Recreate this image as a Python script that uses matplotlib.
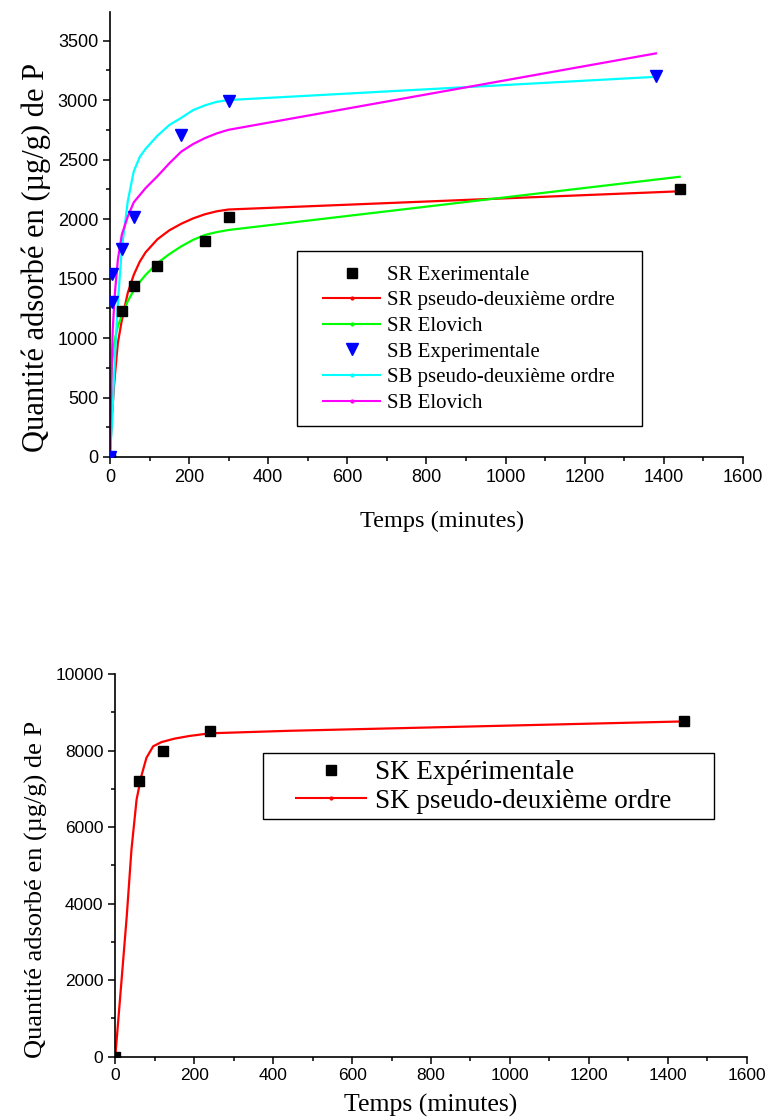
import numpy as np
import matplotlib
matplotlib.use("Agg")
import matplotlib.pyplot as plt
from matplotlib.lines import Line2D
from matplotlib.patches import Rectangle
from matplotlib.ticker import MultipleLocator

# --- top panel : SR and SB ---
sr_t = [0, 30, 60, 120, 240, 300, 1440]
sr_q = [0, 1225, 1435, 1608, 1815, 2015, 2255]

sb_t = [0, 4, 6, 30, 60, 180, 300, 1380]
sb_q = [0, 1300, 1540, 1745, 2020, 2710, 2990, 3200]

sr_pso_t = [0, 2, 5, 10, 15, 20, 30, 45, 60, 75, 90, 120, 150, 180, 210, 240, 270, 300, 1440]
sr_pso_q = [0, 150, 340, 590, 780, 960, 1150, 1380, 1530, 1640, 1720, 1830, 1905, 1960, 2005,
            2040, 2065, 2080, 2233]

sr_elo_t = [0, 1, 2, 5, 10, 15, 20, 30, 45, 60, 75, 90, 120, 150, 180, 210, 240, 270, 300, 1440]
sr_elo_q = [0, 350, 550, 780, 940, 1030, 1100, 1190, 1310, 1400, 1470, 1530, 1630, 1705, 1770,
            1825, 1866, 1890, 1908, 2355]

sb_pso_t = [0, 2, 5, 10, 15, 20, 30, 45, 60, 75, 90, 120, 150, 180, 210, 240, 270, 300, 1380]
sb_pso_q = [0, 120, 280, 650, 1000, 1300, 1750, 2150, 2400, 2520, 2590, 2700, 2790, 2850, 2915,
            2955, 2985, 3000, 3195]

sb_elo_t = [0, 1, 2.5, 5, 7, 10, 13, 20, 30, 45, 60, 90, 120, 150, 180, 210, 240, 270, 300, 1380]
sb_elo_q = [0, 250, 500, 850, 1070, 1250, 1400, 1660, 1870, 2020, 2140, 2260, 2360, 2468, 2566,
            2630, 2680, 2720, 2750, 3392]

# --- bottom panel : SK ---
sk_t = [0, 60, 120, 240, 1440]
sk_q = [0, 7200, 8000, 8500, 8760]

sk_pso_t = [0, 16, 29, 41, 54, 66, 79, 96, 117, 150, 188, 240, 440, 1440]
sk_pso_q = [0, 2010, 3660, 5410, 6720, 7330, 7810, 8110, 8220, 8310, 8380, 8450, 8515, 8760]

labels_top = ["SR Exerimentale", "SR pseudo-deuxième ordre", "SR Elovich",
              "SB Experimentale", "SB pseudo-deuxième ordre", "SB Elovich"]
labels_bot = ["SK Expérimentale", "SK pseudo-deuxième ordre"]

SERIF = "Liberation Serif"
SANS = "Liberation Sans"

RED, GREEN, CYAN, MAGENTA, BLUE = "#ff0000", "#00ff00", "#00ffff", "#ff00ff", "#0000ff"


def style_axes(ax, tick_size):
    for side in ("top", "right"):
        ax.spines[side].set_visible(False)
    for side in ("left", "bottom"):
        ax.spines[side].set_linewidth(1.2)
    ax.tick_params(which="major", direction="out", length=5, width=1.1,
                   labelsize=tick_size)
    ax.tick_params(which="minor", direction="out", length=3, width=1.1)
    for lab in ax.get_xticklabels() + ax.get_yticklabels():
        lab.set_fontfamily(SANS)


def line_handle(color):
    return Line2D([], [], color=color, lw=1.5, marker=".", ms=4)


def legend_box(ax, x0, y0, x1, y1):
    ax.add_patch(Rectangle((x0, y0), x1 - x0, y1 - y0, transform=ax.transAxes,
                           facecolor="white", edgecolor="black", lw=1.0,
                           zorder=4, clip_on=False))


fig = plt.figure(figsize=(7.68, 11.19), dpi=100)

# top chart
ax1 = fig.add_axes([0.1432, 0.5916, 0.8242, 0.3977])
ax1.plot(sr_pso_t, sr_pso_q, color=RED, lw=1.6, zorder=2)
ax1.plot(sr_elo_t, sr_elo_q, color=GREEN, lw=1.6, zorder=2)
ax1.plot(sb_pso_t, sb_pso_q, color=CYAN, lw=1.6, zorder=2)
ax1.plot(sb_elo_t, sb_elo_q, color=MAGENTA, lw=1.6, zorder=2)
ax1.plot(sr_t, sr_q, ls="none", marker="s", ms=6.5, color="black", zorder=3)
ax1.plot(sb_t, sb_q, ls="none", marker="v", ms=8.5, color=BLUE, zorder=3)

ax1.set_xlim(0, 1600)
ax1.set_ylim(0, 3740)
ax1.xaxis.set_major_locator(MultipleLocator(200))
ax1.xaxis.set_minor_locator(MultipleLocator(100))
ax1.yaxis.set_major_locator(MultipleLocator(500))
ax1.yaxis.set_minor_locator(MultipleLocator(250))
style_axes(ax1, 13)
ax1.set_xlabel("Temps (minutes)", fontfamily=SERIF, fontsize=17.5)
ax1.xaxis.set_label_coords(0.524, -0.122)
ax1.set_ylabel("Quantité adsorbé en (µg/g) de P", fontfamily=SERIF, fontsize=22)
ax1.yaxis.set_label_coords(-0.093, 0.449)

handles_top = [
    Line2D([], [], ls="none", marker="s", ms=6.5, color="black"),
    line_handle(RED), line_handle(GREEN),
    Line2D([], [], ls="none", marker="v", ms=8.5, color=BLUE),
    line_handle(CYAN), line_handle(MAGENTA),
]
legend_box(ax1, 0.2954, 0.0697, 0.8404, 0.4629)
leg1 = ax1.legend(handles_top, labels_top, loc="center left",
                  bbox_to_anchor=(0.3365, 0.265), prop={"family": SERIF, "size": 15},
                  frameon=False, handlelength=2.74, handletextpad=0.34,
                  labelspacing=0.29, borderpad=0, borderaxespad=0, numpoints=1)
leg1.set_zorder(5)

# bottom chart
ax2 = fig.add_axes([0.1501, 0.0557, 0.8222, 0.3420])
ax2.plot(sk_pso_t, sk_pso_q, color=RED, lw=1.6, zorder=2)
ax2.plot(sk_t, sk_q, ls="none", marker="s", ms=6.5, color="black", zorder=3)

ax2.set_xlim(0, 1600)
ax2.set_ylim(0, 10000)
ax2.xaxis.set_major_locator(MultipleLocator(200))
ax2.xaxis.set_minor_locator(MultipleLocator(100))
ax2.yaxis.set_major_locator(MultipleLocator(2000))
ax2.yaxis.set_minor_locator(MultipleLocator(1000))
style_axes(ax2, 12.5)
ax2.set_xlabel("Temps (minutes)", fontfamily=SERIF, fontsize=18.5)
ax2.xaxis.set_label_coords(0.5, -0.097)
ax2.set_ylabel("Quantité adsorbé en (µg/g) de P", fontfamily=SERIF, fontsize=19)
ax2.yaxis.set_label_coords(-0.107, 0.438)

handles_bot = [
    Line2D([], [], ls="none", marker="s", ms=6.5, color="black"),
    line_handle(RED),
]
legend_box(ax2, 0.2339, 0.6211, 0.9482, 0.7936)
leg2 = ax2.legend(handles_bot, labels_bot, loc="center left",
                  bbox_to_anchor=(0.2862, 0.7053), prop={"family": SERIF, "size": 19.5},
                  frameon=False, handlelength=2.6, handletextpad=0.3,
                  labelspacing=0.13, borderpad=0, borderaxespad=0, numpoints=1)
leg2.set_zorder(5)

fig.savefig("out.png", dpi=100)
